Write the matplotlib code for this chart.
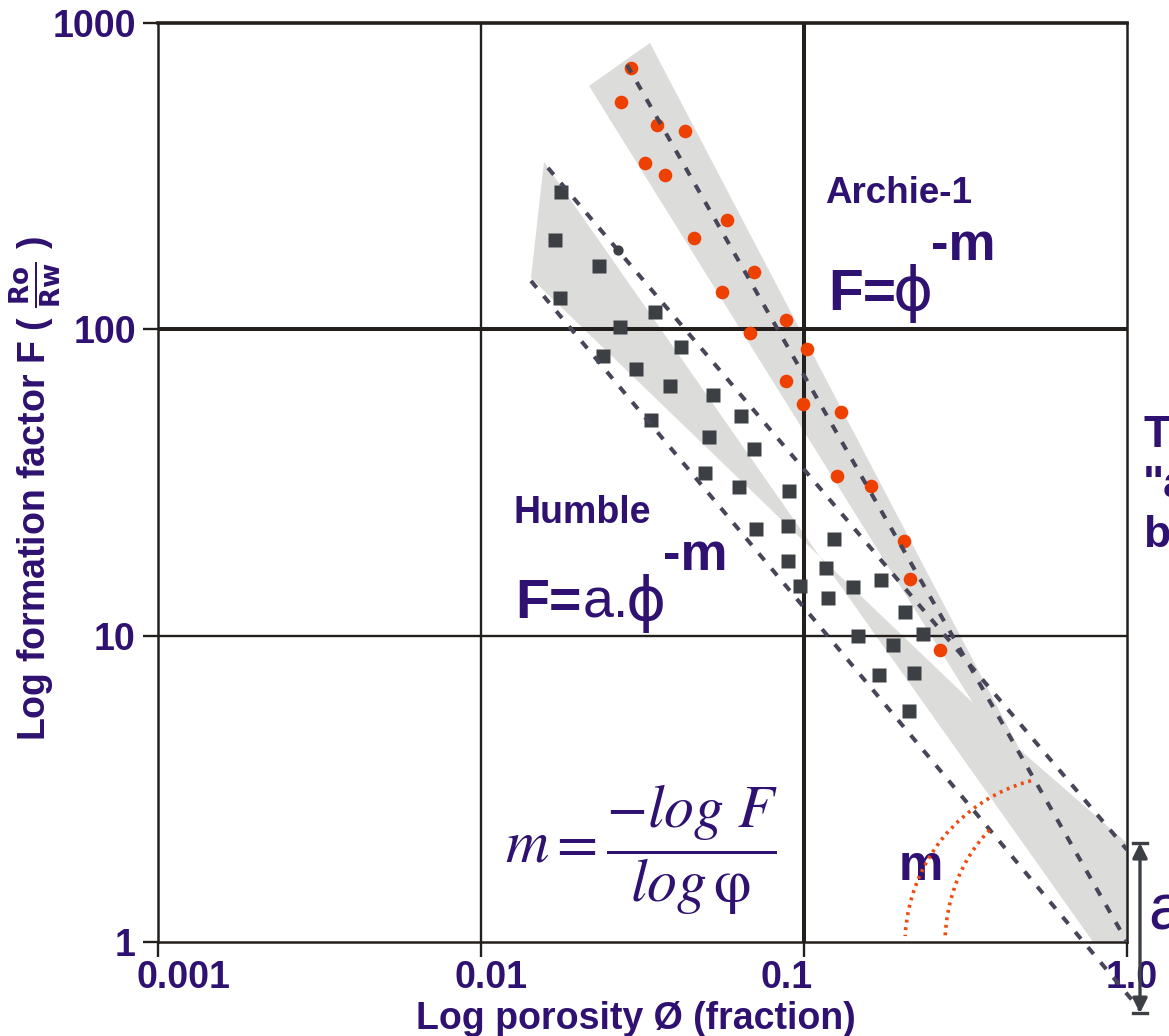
import matplotlib
matplotlib.use('Agg')
import matplotlib.pyplot as plt
from matplotlib.patches import Polygon, Arc
from matplotlib.transforms import IdentityTransform, ScaledTranslation

# --- data ---
archie_phi = [0.0291, 0.0271, 0.0351, 0.0429, 0.0322, 0.0371, 0.0579, 0.0456, 0.070, 0.0557,
              0.0882, 0.068, 0.1023, 0.0882, 0.0991, 0.130, 0.1265, 0.1616, 0.2036, 0.2129, 0.2637]
archie_F = [715, 551, 466, 444, 349, 318, 228, 199, 154, 132,
            107, 97.3, 86.3, 67.7, 57.2, 53.9, 33.2, 30.7, 20.4, 15.3, 8.98]

humble_phi = [0.0177, 0.01695, 0.0232, 0.01757, 0.0346, 0.0269, 0.0416, 0.0239, 0.0302, 0.0385,
              0.0523, 0.0638, 0.0336, 0.0508, 0.070, 0.0494, 0.0629, 0.0899, 0.0710, 0.0892,
              0.1238, 0.0892, 0.117, 0.0972, 0.1732, 0.1418, 0.1187, 0.2055, 0.147, 0.2335,
              0.1886, 0.219, 0.1707, 0.2113]
humble_F = [281, 196, 161, 127, 114, 102, 87.6, 81.9, 74.2, 65.4,
            61.1, 52.2, 50.6, 44.5, 40.7, 34.0, 30.6, 29.7, 22.3, 22.8,
            20.7, 17.5, 16.6, 14.5, 15.2, 14.4, 13.3, 11.95, 9.98, 10.1,
            9.32, 7.55, 7.44, 5.68]

odd_phi = [0.0265]
odd_F = [182]

# grey envelopes
archie_band_phi = [0.0216, 0.03335, 0.4664, 1.0, 1.0, 0.785, 0.1121, 0.3335]
archie_band_F = [623, 861, 4.235, 2.105, 1.0, 1.0, 18.07, 6.03]
humble_band_phi = [0.01567, 0.01428, 0.1121]
humble_band_F = [352, 147, 18.07]

# trend lines
archie_line_phi = [0.0283, 1.0]
archie_line_F = [730, 1.0]
humble_up_phi = [0.01612, 1.0]
humble_up_F = [336.6, 2.0]
humble_lo_phi = [0.01428, 1.10]
humble_lo_F = [143.9, 0.60]

x_ticks = [0.001, 0.01, 0.1, 1.0]
x_labels = ['0.001', '0.01', '0.1', '1.0']
x_label_shift = [25, 10, -17, 5]   # px, labels sit off-centre in the original
y_ticks = [1, 10, 100, 1000]
y_labels = ['1', '10', '100', '1000']

# a-intercept arrow (phi, F range)
a_arrow_phi = 1.097
a_arrow_F = [0.586, 2.105]

PURPLE = '#2e1170'
LINE = '#231f1c'
GREY = '#dcdcdb'
ORANGE = '#ee4000'
SQUARE = '#3c4045'
DASH = '#474659'
W, H = 1169, 1036

plt.rcParams['font.family'] = ['Liberation Sans', 'DejaVu Sans']

fig = plt.figure(figsize=(W / 100, H / 100), dpi=100)
ax = fig.add_axes([158 / W, (H - 942) / H, (1127 - 158) / W, (942 - 23) / H])
ax.set_xscale('log')
ax.set_yscale('log')
ax.set_xlim(0.001, 1.0)
ax.set_ylim(1, 1000)


def fp(px, py):
    return px / W, 1 - py / H


# envelopes
ax.add_patch(Polygon(list(zip(archie_band_phi, archie_band_F)), closed=True,
                     facecolor=GREY, edgecolor='none', zorder=1))
ax.add_patch(Polygon(list(zip(humble_band_phi, humble_band_F)), closed=True,
                     facecolor=GREY, edgecolor='none', zorder=1))

# grid
ax.axhline(10, color=LINE, lw=1.7, zorder=2)
ax.axhline(100, color=LINE, lw=2.9, zorder=2)
ax.axvline(0.01, color=LINE, lw=1.7, zorder=2)
ax.axvline(0.1, color=LINE, lw=2.9, zorder=2)

for side in ['left', 'bottom', 'right']:
    ax.spines[side].set_linewidth(1.8)
    ax.spines[side].set_color(LINE)
ax.spines['top'].set_linewidth(2.6)
ax.spines['top'].set_color(LINE)

ax.set_xticks(x_ticks)
ax.set_xticklabels(x_labels)
ax.set_yticks(y_ticks)
ax.set_yticklabels(y_labels)
ax.minorticks_off()
ax.tick_params(axis='both', direction='out', length=11, width=1.7, color=LINE,
               labelsize=27, labelcolor=PURPLE)
ax.tick_params(axis='x', pad=2)
ax.tick_params(axis='y', pad=5)
for t in ax.get_xticklabels() + ax.get_yticklabels():
    t.set_fontweight('bold')
for t, dx in zip(ax.get_xticklabels(), x_label_shift):
    t.set_transform(t.get_transform() + ScaledTranslation(dx / 100, 0, fig.dpi_scale_trans))

# data points
ax.plot(humble_phi, humble_F, 's', ms=9.4, color=SQUARE, mec='none', zorder=3)
ax.plot(archie_phi, archie_F, 'o', ms=9.8, color=ORANGE, mec='none', zorder=3)
ax.plot(odd_phi, odd_F, 'o', ms=7.4, color=SQUARE, mec='none', zorder=5)

# trend lines
dash = (0, (2.2, 2.7))
ax.plot(archie_line_phi, archie_line_F, color=DASH, lw=2.9, ls=dash, zorder=4)
ax.plot(humble_up_phi, humble_up_F, color=DASH, lw=2.9, ls=dash, zorder=4)
ax.plot(humble_lo_phi, humble_lo_F, color=DASH, lw=2.9, ls=dash, zorder=4, clip_on=False)

# a-intercept arrow
ax.annotate('', xy=(a_arrow_phi, a_arrow_F[1]), xytext=(a_arrow_phi, a_arrow_F[0]),
            arrowprops=dict(arrowstyle='<|-|>', color=SQUARE, lw=2.4, mutation_scale=22,
                            shrinkA=0, shrinkB=0), annotation_clip=False, zorder=6)
for fv in a_arrow_F:
    ax.plot([1.046, 1.152], [fv, fv], color=SQUARE, lw=2.4, clip_on=False, zorder=6)

# angle arcs (dotted)
fig.canvas.draw()
cx, cy = ax.transData.transform((0.69, 0.978))
arc1 = Arc((cx, cy), 340, 340, theta1=105, theta2=177, transform=IdentityTransform(),
           color='#f04a10', lw=2.6, ls=(0, (0.8, 1.3)), zorder=5)
arc2 = Arc((cx - 5, cy), 250, 300, theta1=125, theta2=177, transform=IdentityTransform(),
           color='#f04a10', lw=2.6, ls=(0, (0.8, 1.3)), zorder=5)
fig.add_artist(arc1)
fig.add_artist(arc2)

# labels
fig.text(*fp(636, 1029), 'Log porosity Ø (fraction)', fontsize=27, fontweight='bold',
         color=PURPLE, ha='center', va='baseline')
fig.text(*fp(36, 488), r'Log formation factor F ( $\mathbf{\frac{Ro}{Rw}}$ )', fontsize=27,
         fontweight='bold', color=PURPLE, rotation=90, ha='center', va='center',
         math_fontfamily='dejavusans')

# Archie annotation
fig.text(*fp(825, 203), 'Archie-1', fontsize=26.5, fontweight='bold', color=PURPLE, va='baseline')
fig.text(*fp(828, 310), 'F=', fontsize=41, fontweight='bold', color=PURPLE, va='baseline')
fig.text(*fp(913, 310), 'ϕ', fontsize=44, color=PURPLE, va='baseline', ha='center',
         family='DejaVu Sans')
fig.text(*fp(931, 260), '-m', fontsize=38, fontweight='bold', color=PURPLE, va='baseline')

# Humble annotation
fig.text(*fp(514, 523), 'Humble', fontsize=27, fontweight='bold', color=PURPLE, va='baseline')
fig.text(*fp(515, 618), 'F=', fontsize=40, fontweight='bold', color=PURPLE, va='baseline')
fig.text(*fp(583, 618), 'a.', fontsize=40, color=PURPLE, va='baseline')
fig.text(*fp(646, 620), 'ϕ', fontsize=44, color=PURPLE, va='baseline', ha='center',
         family='DejaVu Sans')
fig.text(*fp(663, 570), '-m', fontsize=38, fontweight='bold', color=PURPLE, va='baseline')

# formula for m
fig.text(*fp(505, 850), r'$m=\dfrac{-log\ F}{log\,\mathrm{\varphi}}$', fontsize=43,
         color=PURPLE, ha='left', va='center', math_fontfamily='stix')

fig.text(*fp(899, 880), 'm', fontsize=36, fontweight='bold', color=PURPLE, va='baseline')
fig.text(*fp(1148, 930), 'a', fontsize=46, color=PURPLE, va='baseline')

# cut-off side note
for s, yb in [('T', 447), ('"a', 497), ('b', 547)]:
    fig.text(*fp(1143, yb), s, fontsize=32, fontweight='bold', color=PURPLE, va='baseline')

fig.savefig('out.png', dpi=100, facecolor='white')
